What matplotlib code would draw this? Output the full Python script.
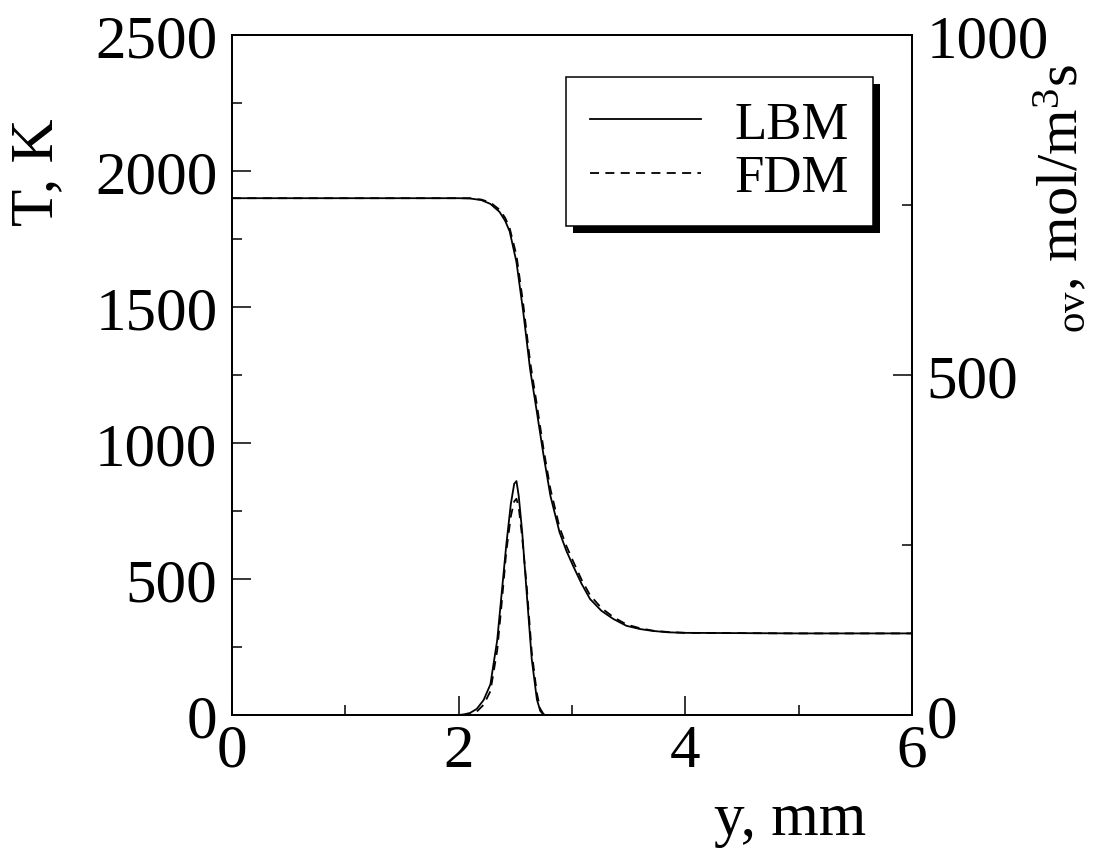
import matplotlib
matplotlib.use("Agg")
import matplotlib.pyplot as plt
from matplotlib.patches import Rectangle
from matplotlib.transforms import IdentityTransform

plt.rcParams['font.family'] = ['Liberation Serif', 'DejaVu Serif']
plt.rcParams['mathtext.fontset'] = 'custom'
plt.rcParams['mathtext.rm'] = 'Liberation Serif'
plt.rcParams['mathtext.it'] = 'Liberation Serif:italic'

# ---- data ----
y_T = [0.0, 0.5, 1.0, 1.5, 1.8, 2.0, 2.1, 2.2, 2.28, 2.36, 2.41, 2.45, 2.51, 2.57, 2.63,
       2.69, 2.75, 2.81, 2.89, 2.95, 3.01, 3.085, 3.16, 3.26, 3.365, 3.48, 3.6, 3.715,
       3.85, 4.0, 5.0, 6.0]
T_LBM = [1900, 1900, 1900, 1900, 1900, 1900, 1899, 1893, 1879, 1850, 1817, 1778, 1665, 1481, 1272,
         1114, 952, 805, 672, 604, 548, 482, 426, 383, 353, 328, 316, 309,
         304, 302, 300, 300]
T_FDM = [1900, 1900, 1900, 1900, 1900, 1900, 1900, 1895, 1884, 1858, 1828, 1790, 1690, 1510, 1300,
         1140, 975, 830, 690, 622, 565, 497, 440, 393, 360, 333, 319, 310,
         305, 302, 300, 300]

y_W = [0.0, 1.9, 2.0, 2.05, 2.1, 2.16, 2.22, 2.28, 2.34, 2.38, 2.42, 2.46, 2.49, 2.51, 2.53,
       2.56, 2.6, 2.645, 2.69, 2.72, 2.75, 2.8, 6.0]
W_LBM = [0, 0, 0, 1, 3, 9, 22, 45, 110, 180, 250, 310, 340, 344, 322,
         270, 180, 82, 23, 6, 0, 0, 0]
W_FDM = [0, 0, 0, 0, 1, 5, 15, 35, 95, 165, 240, 292, 314, 318, 305,
         262, 190, 92, 32, 9, 1, 0, 0]

labels = ["LBM", "FDM"]
x_ticks = [0, 2, 4, 6]
T_ticks = [0, 500, 1000, 1500, 2000, 2500]
W_ticks = [0, 500, 1000]

# ---- figure ----
fig = plt.figure(figsize=(10.97, 8.54), dpi=100)
ax = fig.add_axes([232/1097, 138/854, 680/1097, 680/854])
ax2 = ax.twinx()

lw = 1.3
dash = (5, 3.5)
l1, = ax.plot(y_T, T_LBM, color='k', lw=lw, label=labels[0])
l2, = ax.plot(y_T, T_FDM, color='k', lw=lw, ls=(0, dash), label=labels[1])
ax2.plot(y_W, W_LBM, color='k', lw=lw)
ax2.plot(y_W, W_FDM, color='k', lw=lw, ls=(0, dash))

ax.set_xlim(0, 6)
ax.set_ylim(0, 2500)
ax2.set_ylim(0, 1000)
ax.set_xticks(x_ticks)
ax.set_xticks([1, 3, 5], minor=True)
ax.set_yticks(T_ticks)
ax.set_yticks([250, 750, 1250, 1750, 2250], minor=True)
ax2.set_yticks(W_ticks)
ax2.set_yticks([250, 750], minor=True)

fs = 44
ax.tick_params(axis='x', which='both', direction='in', top=False, labelsize=fs, pad=6)
ax.tick_params(axis='y', which='both', direction='in', right=False, labelsize=fs, pad=10.5)
ax2.tick_params(axis='y', which='both', direction='in', left=False, labelsize=fs, pad=10.5)
for a in (ax, ax2):
    a.tick_params(which='major', length=13.5, width=1.1)
    a.tick_params(which='minor', length=7.5, width=1.1)
    for s in a.spines.values():
        s.set_linewidth(1.3)

ax.set_xlabel("y, mm", fontsize=fs, va='center')
ax.xaxis.set_label_coords((790-232)/680, (716-820)/680)
ax.set_ylabel("T, K", fontsize=fs, va='center')
ax.yaxis.set_label_coords((37-232)/680, (716-172)/680)
ax2.set_ylabel(r"$_{\mathrm{ov}}$, mol/m$^{\mathrm{3}}$s", fontsize=42,
               rotation=90, va='center', ha='center')
ax2.yaxis.set_label_coords((1062-232)/680, (716-198)/680)

leg = ax2.legend(handles=[l1, l2], loc='upper right',
                 bbox_to_anchor=((873-232)/680, (716-78)/680),
                 borderaxespad=0, fontsize=38, frameon=True, fancybox=False,
                 framealpha=1, facecolor='white',
                 handlelength=2.1, handletextpad=0.65, borderpad=0.45,
                 labelspacing=0.1)
leg.get_frame().set_edgecolor('k')
leg.get_frame().set_linewidth(1.1)
leg.set_zorder(10)

fig.canvas.draw()
bb = leg.get_frame().get_window_extent(fig.canvas.get_renderer())
shadow = Rectangle((bb.x0 + 7, bb.y0 - 7), bb.width, bb.height,
                   transform=IdentityTransform(), facecolor='k', edgecolor='none',
                   zorder=9)
ax2.add_artist(shadow)

fig.savefig("out.png", dpi=100)
